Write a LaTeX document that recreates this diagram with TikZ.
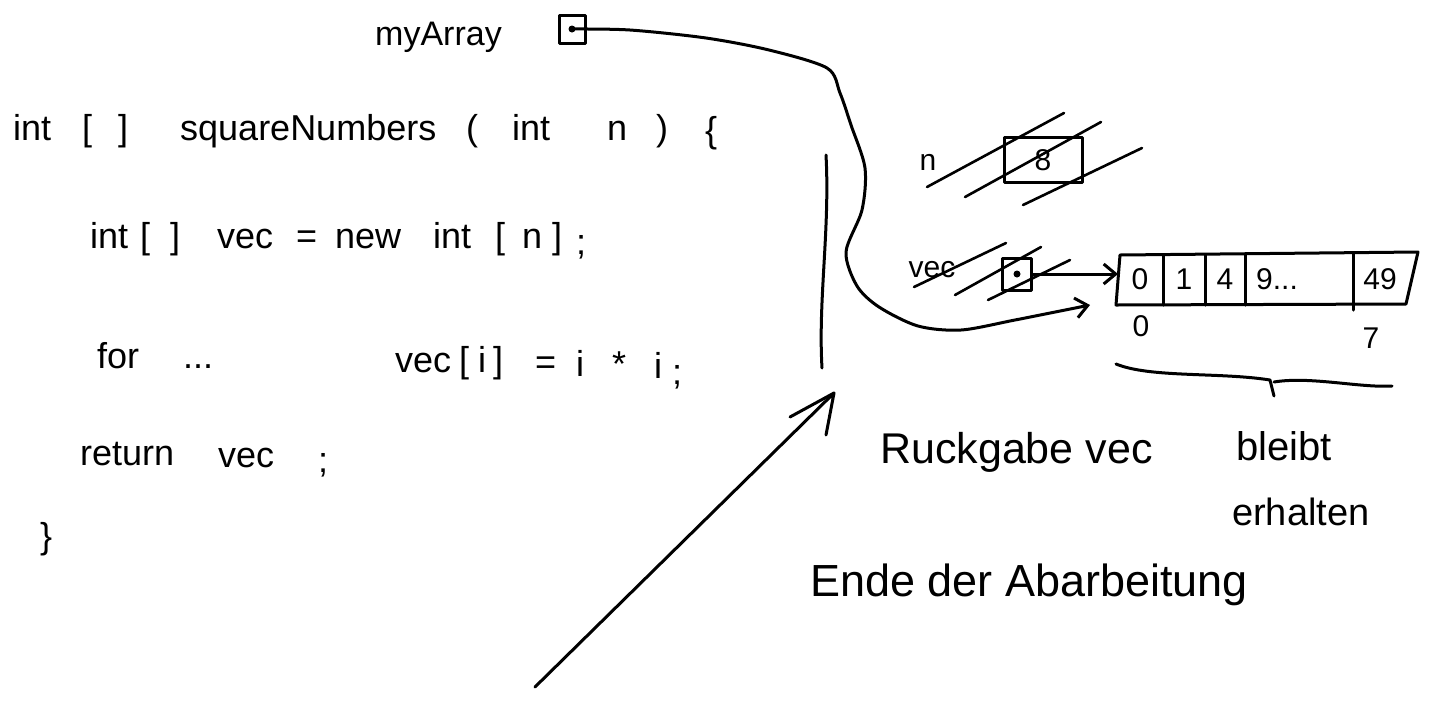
\documentclass[tikz,border=0pt]{standalone}
\usepackage{fontspec}
\setmainfont{Liberation Sans}
\usetikzlibrary{arrows.meta}
\begin{document}
\begin{tikzpicture}[x=1pt,y=-1pt,
  ink/.style={line width=3pt, line cap=round, line join=round},
  code/.style={inner sep=0pt, anchor=base west, font=\fontsize{36}{40}\selectfont},
  lab/.style={inner sep=0pt, anchor=base west, font=\fontsize{43}{47}\selectfont},
  small/.style={inner sep=0pt, font=\fontsize{30}{34}\selectfont},
  barb/.style={-{Straight Barb[length=12pt,width=20pt,line width=3pt]}},
  hatch/.style={ink, line width=2.6pt}]
\useasboundingbox[fill=white] (0,0) rectangle (1432,721);

% signature line
\node[code] (s1) at (13,140) {int};
\node[code] (s2) at (82,140) {[};
\node[code] (s3) at (118,140) {]};
\node[code] (s4) at (180,140) {squareNumbers};
\node[code] (s5) at (466,140) {(};
\node[code] (s6) at (512,140) {int};
\node[code] (s7) at (607,140) {n};
\node[code] (s8) at (656,140) {)};
\node[code] (s9) at (705,142) {\{};
% line 2
\node[code] (a1) at (90,248) {int};
\node[code] (a2) at (140,248) {[};
\node[code] (a3) at (170,248) {]};
\node[code] (a4) at (217,248) {vec};
\node[code] (a5) at (296,248) {=};
\node[code] (a6) at (335,248) {new};
\node[code] (a7) at (433,248) {int};
\node[code] (a8) at (495,248) {[};
\node[code] (a9) at (522,248) {n};
\node[code] (a10) at (552,248) {]};
\node[code] (a11) at (576,254) {;};
% line 3
\node[code] (b1) at (97,368) {for};
\node[code] (b2) at (183,368) {...};
\node[code] (b3) at (395,372) {vec};
\node[code] (b4) at (459,372) {[};
\node[code] (b5) at (478,372) {i};
\node[code] (b6) at (493,372) {]};
\node[code] (b7) at (535,374) {=};
\node[code] (b8) at (576,376) {i};
\node[code] (b9) at (612,376) {*};
\node[code] (b10) at (654,378) {i};
\node[code] (b11) at (672,384) {;};
% line 4
\node[code] (c1) at (80,465) {return};
\node[code] (c2) at (218,467) {vec};
\node[code] (c3) at (318,472) {;};
\node[code] (c4) at (40,548) {\}};

% myArray
\node[inner sep=0pt, font=\fontsize{34}{38}\selectfont, anchor=base west] (ma) at (375,45) {myArray};
\node[draw, ink, minimum width=26pt, minimum height=28pt, inner sep=0pt] (mabox) at (572,29) {};
\fill (mabox.center) circle (3.5pt);

% stack divider
\coordinate (vt) at (826,155);
\coordinate (vb) at (822,368);
\draw[ink] (vt) .. controls (830,230) and (818,300) .. (vb);

% n frame
\node[small, anchor=center] (n) at (928,162) {n};
\node[draw, ink, minimum width=78pt, minimum height=45pt, inner sep=0pt] (nbox) at (1043,160) {};
\node[small] (eight) at (nbox.center) {8};
\draw[hatch] (927,187) -- (1064,113);
\draw[hatch] (965,197) -- (1101,122);
\draw[hatch] (1023,205) -- (1142,148);

% vec frame
\node[small, anchor=center] (vec) at (932,270) {vec};
\node[draw, ink, minimum width=29pt, minimum height=32pt, inner sep=0pt] (vbox) at (1017,274) {};
\fill (vbox.center) circle (3.5pt);
\draw[hatch] (914,287) -- (1006,243);
\draw[hatch] (955,295) -- (1041,247);
\draw[hatch] (988,300) -- (1070,260);

% array
\coordinate (p1) at (1120,255);
\coordinate (p2) at (1418,252);
\coordinate (p3) at (1406,304);
\coordinate (p4) at (1116,305);
\draw[ink] (p1) -- (p2) -- (p3) -- (p4) -- cycle;
\node[minimum width=290pt, minimum height=50pt, inner sep=0pt, anchor=north west] (arr) at (1118,254) {};
\draw[ink] (1163,255) -- (1163,305);
\draw[ink] (1205,255) -- (1205,305);
\draw[ink] (1245,254) -- (1245,305);
\draw[ink] (1353,253) -- (1353,310);
\node[small] (c0) at (1140,279) {0};
\node[small] (c1v) at (1184,279) {1};
\node[small] (c2v) at (1225,279) {4};
\node[small, anchor=west] (c3v) at (1256,279) {9...};
\node[small] (c4v) at (1380,279) {49};
\node[small] (i0) at (1141,326) {0};
\node[small] (i7) at (1371,338) {7};

% brace
\coordinate (bl) at (1116,364);
\coordinate (br) at (1392,386);
\draw[ink] (bl) .. controls (1150,378) and (1220,372) .. (1270,380) -- (1274,396);
\draw[ink] (1274,382) .. controls (1310,376) and (1360,388) .. (br);

% pointers
\coordinate (t1) at (1090,305);
\draw[ink, barb] plot[smooth, tension=0.5] coordinates {(mabox.center) (630,30) (706,38) (769,50) (827,68) (840,93) (851,125) (865,168) (862,210) (846,252) (857,286) (879,307) (918,326) (961,330) (1015,320) (t1)};
\draw[ink, barb] (vbox.east) -- (arr.west |- vbox.east);

% big arrow
\coordinate (bs) at (535,687);
\coordinate (be) at (834,393);
\draw[ink] (bs) -- (be) -- (826,435);
\draw[ink] (be) -- (790,417);

% labels
\node[lab] (rg) at (880,463) {Ruckgabe vec};
\node[inner sep=0pt, anchor=base west, font=\fontsize{40}{44}\selectfont] (bl1) at (1236,460) {bleibt};
\node[inner sep=0pt, anchor=base west, font=\fontsize{38}{42}\selectfont] (bl2) at (1232,525) {erhalten};
\node[inner sep=0pt, anchor=base west, font=\fontsize{45}{49}\selectfont] (ende) at (810,596) {Ende der Abarbeitung};
\end{tikzpicture}
\end{document}
